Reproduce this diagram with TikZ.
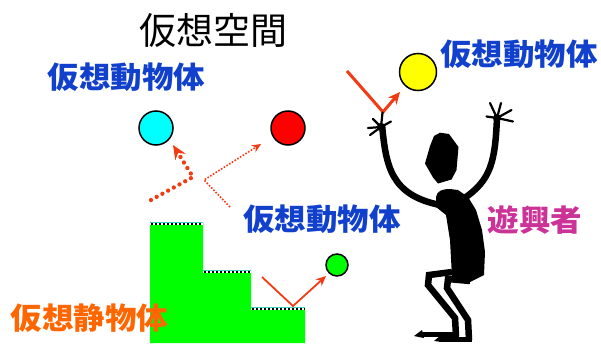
\documentclass[tikz,border=0pt]{standalone}
\usepackage{fontspec}
\newfontfamily\jp{Noto Sans CJK JP}
\usetikzlibrary{arrows.meta}
\definecolor{labelblue}{RGB}{16,64,204}
\definecolor{labelmagenta}{RGB}{204,51,153}
\definecolor{labelorange}{RGB}{255,102,0}
\definecolor{ray}{RGB}{240,60,20}
\definecolor{stepgreen}{RGB}{0,255,0}
\definecolor{ballcyan}{RGB}{0,255,255}
\definecolor{ballred}{RGB}{255,0,0}
\definecolor{ballyellow}{RGB}{255,255,0}
\definecolor{edgecyan}{RGB}{60,210,190}
\tikzset{
  ball/.style={circle, draw=black, line width=1.5pt, inner sep=0pt},
  lbl/.style={inner sep=0pt, anchor=base, font=\jp\bfseries\fontsize{30}{30}\selectfont, xscale=1.05},
  raythick/.style={draw=ray, line width=4.3pt, line cap=round, dash pattern=on 0pt off 6.5pt,
    -{Stealth[length=14pt,width=12pt,fill=ray]}},
  raythin/.style={draw=ray, line width=1.6pt, dash pattern=on 1.6pt off 1.6pt,
    -{Stealth[length=9pt,width=8pt,fill=ray]}},
  raysolid/.style={draw=ray, line width=1.8pt, -{Stealth[length=10pt,width=9pt,fill=ray]}},
  rayheavy/.style={draw=ray, line width=3pt, -{Stealth[length=12pt,width=11pt,fill=ray]}},
  limb/.style={line width=6.5pt, line join=miter},
  finger/.style={line width=2.2pt, line cap=round},
}
\begin{document}
\begin{tikzpicture}[x=1pt,y=-1pt]
\useasboundingbox[fill=white] (0,0) rectangle (601,343);

% static staircase
\fill[stepgreen] (150,222) -- (203,222) -- (203,270) -- (251,270) -- (251,307)
  -- (305,307) -- (305,343) -- (150,343) -- cycle;
\foreach \xa/\xb/\yy in {150/203/222, 203/251/270, 251/305/307}{
  \fill[white] (\xa,\yy) rectangle (\xb,\yy+3);
  \draw[edgecyan, line width=1pt] (\xa,\yy+0.5) -- (\xb,\yy+0.5);
  \draw[black, line width=1.6pt, dash pattern=on 2pt off 2pt] (\xa+1,\yy+2.2) -- (\xb,\yy+2.2);
}

% moving balls
\node[ball, fill=ballcyan, minimum size=34pt] (bc) at (156,128) {};
\node[ball, fill=ballred, minimum size=34pt] (br) at (288,128) {};
\node[ball, fill=ballyellow, minimum size=37pt] (by) at (418,72) {};
\node[ball, fill=stepgreen, minimum size=22pt] (bg) at (337,265) {};

% ray paths
\coordinate (c0) at (151,200); \coordinate (c1) at (193,177); \coordinate (c2) at (173,145);
\coordinate (r0) at (230,207); \coordinate (r1) at (204,180); \coordinate (r2) at (261,144);
\coordinate (g0) at (262,277); \coordinate (g1) at (293,306); \coordinate (g2) at (326,276);
\coordinate (y0) at (347,71);  \coordinate (y1) at (383,112); \coordinate (y2) at (400,92);
\draw[raythick] (c0) -- (c1) -- (c2);
\draw[raythin] (r0) -- (r1) -- (r2);
\draw[raysolid] (g0) -- (g1) -- (g2);
\draw[rayheavy] (y0) -- (y1) -- (y2);

% player silhouette
\begin{scope}[black]
  % head
  \fill (440,132.7) -- (449,134) -- (458.5,147) -- (456.5,170) -- (451.5,179.5)
    -- (438,183.5) -- (433,177.5) -- (425,163.5) -- (430,146) -- (434,136) -- cycle;
  % torso
  \fill (436,197) .. controls (437,191) and (442,189) .. (450,189) -- (458,190)
    -- (468,197) -- (476,210) -- (482,230) -- (485,252) -- (484,275) -- (470,282)
    -- (452,277) -- (450,240) -- (446,215) -- (436,207) -- cycle;
  % arms
  \draw[limb] (382,125) .. controls (386,165) and (390,195) .. (440,205);
  \draw[limb] (497,118) .. controls (495,160) and (492,180) .. (463,199);
  % hands
  \fill (381,127) circle (4.2pt);
  \fill (497,118) circle (4pt);
  \foreach \fx/\fy in {373/119, 382.5/112.5, 391/121.5, 368/128, 370/135}
    \draw[finger] (381,127) -- (\fx,\fy);
  \foreach \fx/\fy in {490/103, 501/103, 511.5/110, 513/121.5, 486.5/116.5}
    \draw[finger] (497,118) -- (\fx,\fy);
  % legs
  \draw[limb] (452,272) -- (429,275) -- (428,285) -- (455,318) -- (456,336);
  \draw[limb] (470,281) -- (448,279) -- (447,288) -- (468,320) -- (469,340);
  % feet
  \draw[line width=5pt] (459,334) -- (420,334);
  \fill (422,330) -- (414,336) -- (424,338) -- cycle;
  \draw[line width=5pt] (472,339) -- (439,339);
  \fill (441,335) -- (434,341) -- (443,342) -- cycle;
\end{scope}

% labels
\node[inner sep=0pt, anchor=base, font=\jp\fontsize{37}{37}\selectfont] (title) at (213.5,44.5) {仮想空間};
\node[lbl, text=labelblue] (mtl) at (126.5,88) {仮想動物体};
\node[lbl, text=labelblue] (mtr) at (519,65) {仮想動物体};
\node[lbl, text=labelblue] (mmid) at (322,230) {仮想動物体};
\node[lbl, text=labelmagenta] (player) at (535,231) {遊興者};
\node[lbl, text=labelorange] (still) at (89.5,329) {仮想静物体};
\end{tikzpicture}
\end{document}
